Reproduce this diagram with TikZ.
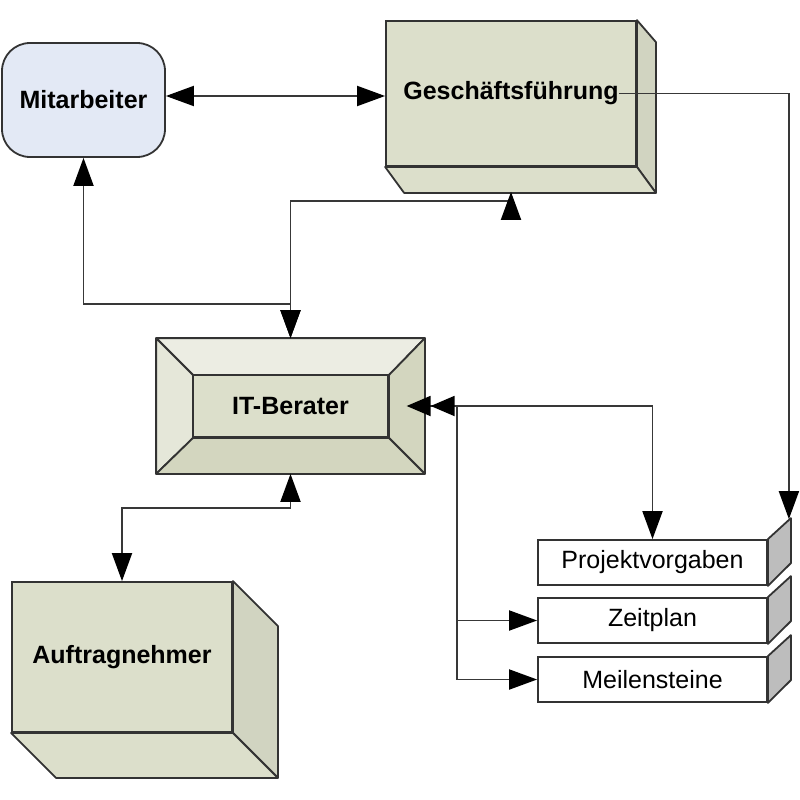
\documentclass[tikz,border=0pt]{standalone}
\usepackage{fontspec}
\setmainfont{Liberation Sans}
\usepackage{tikz}
\usetikzlibrary{calc, arrows.meta, positioning}
\definecolor{mitblue}{HTML}{E3E9F5}
\definecolor{boxgreen}{HTML}{DCDFCB}
\definecolor{bevlight}{HTML}{ECEDE3}
\definecolor{bevleft}{HTML}{E5E7D9}
\definecolor{bevdark}{HTML}{D3D6BF}
\definecolor{listside}{HTML}{BDBDBD}
\tikzset{
	conn/.style={draw=black!78, line width=1.9pt, >={Triangle[length=28pt,width=20pt,color=black]}}
}
\tikzset{
	bigbox/.style={draw=black!80, line width=1.8pt, fill=boxgreen, inner sep=0pt,
		font=\fontsize{25}{30}\selectfont\bfseries},
	face/.style={draw=black!80, line width=1.8pt, line join=round},
	listbox/.style={draw=black!80, line width=1.8pt, fill=white, inner sep=0pt,
		minimum width=229pt, minimum height=45pt, font=\fontsize{25}{30}\selectfont}
}

\begin{document}
\begin{tikzpicture}[x=1pt, y=-1pt]
      \useasboundingbox (0,0) rectangle (800,800);

      % staff
      \node[bigbox, fill=mitblue, rounded corners=28pt, minimum width=163pt, minimum height=114pt] (mit) at (83.5,100) {Mitarbeiter};

      % management, box with depth
      \node[bigbox, minimum width=250pt, minimum height=145pt] (gf) at (511,93.5) {\raisebox{-3pt}{Geschäftsführung}};
      \filldraw[face, fill=boxgreen!95!black] (gf.north east) -- ++(19,22) -- ($(gf.south east)+(19,26)$) -- (gf.south east) -- cycle;
      \filldraw[face, fill=boxgreen] (gf.south west) -- ++(19,26) -- ($(gf.south east)+(19,26)$) -- (gf.south east) -- cycle;

      % consultant, bevelled frame
      \node[bigbox, minimum width=267pt, minimum height=134pt] (itbframe) at (290.5,406) {};
      \coordinate (iNW) at ($(itbframe.north west)+(37,37)$);
      \coordinate (iNE) at ($(itbframe.north east)+(-36,37)$);
      \coordinate (iSE) at ($(itbframe.south east)+(-36,-36)$);
      \coordinate (iSW) at ($(itbframe.south west)+(37,-36)$);
      \filldraw[face, fill=bevlight] (itbframe.north west) -- (itbframe.north east) -- (iNE) -- (iNW) -- cycle;
      \filldraw[face, fill=bevleft] (itbframe.north west) -- (iNW) -- (iSW) -- (itbframe.south west) -- cycle;
      \filldraw[face, fill=bevdark] (itbframe.north east) -- (iNE) -- (iSE) -- (itbframe.south east) -- cycle;
      \filldraw[face, fill=bevdark] (itbframe.south west) -- (iSW) -- (iSE) -- (itbframe.south east) -- cycle;
      \node[bigbox, minimum width=194pt, minimum height=61pt] (itb) at (itbframe.center) {IT-Berater};

      % contractor, box with depth
      \node[bigbox, minimum width=220pt, minimum height=150pt] (auf) at (122,657) {Auftragnehmer};
      \filldraw[face, fill=boxgreen!95!black] (auf.north east) -- ++(45,45) -- ($(auf.south east)+(45,45)$) -- (auf.south east) -- cycle;
      \filldraw[face, fill=boxgreen] (auf.south west) -- ++(45,45) -- ($(auf.south east)+(45,45)$) -- (auf.south east) -- cycle;

      % stacked documents
      \foreach \n/\t/\y in {pv/Projektvorgaben/562.5, zp/Zeitplan/620.5, ms/Meilensteine/679.5} {
        \node[listbox] (\n) at (652.5,\y) {\t};
        \filldraw[face, fill=listside] (\n.north east) -- ++(23,-21) -- ++(0,45) -- (\n.south east) -- cycle;
      }
      \coordinate (pvtop) at ($(pv.north east)+(21,-20)$);

      % connectors
      \draw[conn, <->] ([yshift=4pt]mit.east) -- ([yshift=4pt]mit.east -| gf.west);
      \draw[conn, ->] ([xshift=-18pt]gf.east) -| (pvtop);
      \draw[conn, <->] ([yshift=-25pt]gf.south) -- ++(0,9) -| (itbframe.north);
      \draw[conn, <->] (mit.south) |- ([yshift=34pt]itbframe.north) -- (itbframe.north);
      \draw[conn, <->] (itbframe.south) -- ++(0,34) -| (auf.north);

      \coordinate (split) at (457,406);
      \draw[conn, -{Triangle[length=24pt,width=20pt,color=black]Triangle[length=24pt,width=20pt,color=black]}] (split) -- ($(itbframe.east)!0.5!(itb.east)$);
      \draw[conn, ->] (split) -| (pv.north);
      \draw[conn, ->] (split) |- (zp.west);
      \draw[conn, ->] (split) |- (ms.west);
    \end{tikzpicture}
\end{document}
